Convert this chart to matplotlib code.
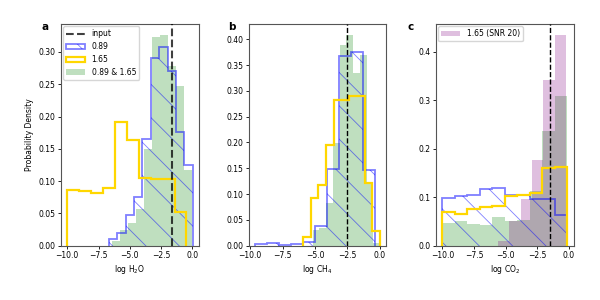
import numpy as np
import matplotlib.pyplot as plt

# panel a: log H2O  (bin ranges + densities)
h2o_input = -1.62
h2o_089_range = (-6.68, 0.02)
h2o_089 = [0.010, 0.020, 0.048, 0.076, 0.165, 0.291, 0.307, 0.270, 0.176, 0.125]
h2o_165_range = (-10.0, -0.48)
h2o_165 = [0.086, 0.084, 0.081, 0.089, 0.192, 0.164, 0.105, 0.104, 0.103, 0.052]
h2o_both_range = (-6.40, 0.0)
h2o_both = [0.008, 0.025, 0.035, 0.057, 0.150, 0.323, 0.327, 0.278, 0.247, 0.118]

# panel b: log CH4
ch4_input = -2.5
ch4_089_range = (-9.65, -0.39)
ch4_089 = [0.004, 0.006, 0.002, 0.003, 0.008, 0.039, 0.149, 0.368, 0.376, 0.146]
ch4_165_range = (-5.92, 0.02)
ch4_165 = [0.0175, 0.092, 0.117, 0.195, 0.282, 0.282, 0.290, 0.290, 0.122, 0.0286]
ch4_both_range = (-5.17, 0.04)
ch4_both = [0.030, 0.034, 0.082, 0.198, 0.389, 0.409, 0.335, 0.369, 0.122, 0.005]

# panel c: log CO2
co2_input = -1.47
co2_089_range = (-10.0, -0.13)
co2_089 = [0.098, 0.103, 0.105, 0.117, 0.118, 0.105, 0.105, 0.097, 0.097, 0.0635]
co2_165_range = (-10.0, -0.13)
co2_165 = [0.070, 0.066, 0.076, 0.079, 0.082, 0.102, 0.105, 0.109, 0.160, 0.163]
co2_both_range = (-10.0, -0.13)
co2_both = [0.046, 0.051, 0.044, 0.043, 0.060, 0.050, 0.053, 0.113, 0.237, 0.308]
co2_snr20_range = (-5.6, -0.2)
co2_snr20 = [0.010, 0.050, 0.096, 0.177, 0.342, 0.435]

FS = 5.5
plt.rcParams.update({"font.size": FS, "axes.linewidth": 0.8,
                     "xtick.major.width": 0.6, "ytick.major.width": 0.6,
                     "xtick.major.size": 2.5, "ytick.major.size": 2.5,
                     "hatch.linewidth": 0.6})


def edges_of(rng, vals):
    return np.linspace(rng[0], rng[1], len(vals) + 1)


def step_hist(ax, rng, vals, **kw):
    e = edges_of(rng, vals)
    return ax.hist(e[:-1], bins=e, weights=vals, **kw)[2][0]


fig = plt.figure(figsize=(6, 3), dpi=100)
axes = [fig.add_axes([61 / 600, 0.181, 138 / 600, 0.739]),
        fig.add_axes([249 / 600, 0.181, 137 / 600, 0.739]),
        fig.add_axes([436 / 600, 0.181, 138 / 600, 0.739])]

panels = [
    (h2o_input, h2o_089_range, h2o_089, h2o_165_range, h2o_165, h2o_both_range, h2o_both,
     r"log H$_2$O", (-10.5, 0.52), np.arange(0, 0.31, 0.05), "{:.2f}"),
    (ch4_input, ch4_089_range, ch4_089, ch4_165_range, ch4_165, ch4_both_range, ch4_both,
     r"log CH$_4$", (-10.09, 0.49), np.arange(0, 0.41, 0.05), "{:.2f}"),
    (co2_input, co2_089_range, co2_089, co2_165_range, co2_165, co2_both_range, co2_both,
     r"log CO$_2$", (-10.5, 0.42), np.arange(0, 0.41, 0.1), "{:.1f}"),
]

handles = []
for i, (ax, p) in enumerate(zip(axes, panels)):
    inp, r89, v89, r165, v165, rb, vb, xlab, xlim, yt, fmt = p
    hb = step_hist(ax, rb, vb, histtype="stepfilled", color="green", alpha=0.25,
                   zorder=1, label="0.89 & 1.65")
    if i == 2:
        hp = step_hist(ax, co2_snr20_range, co2_snr20, histtype="stepfilled",
                       color="purple", alpha=0.25, zorder=1.5, label="1.65 (SNR 20)")
    h89 = step_hist(ax, r89, v89, histtype="step", color="blue", alpha=0.5, lw=1.3,
                    hatch="\\", zorder=2, label="0.89")
    h165 = step_hist(ax, r165, v165, histtype="step", color="gold", lw=1.6,
                     zorder=2.5, label="1.65")
    if i == 0:
        hin = ax.axvline(inp, color="k", ls="--", lw=1.5, alpha=0.75, zorder=3,
                         label="input")
        handles = [hin, h89, h165, hb]
    else:
        ax.axvline(inp, color="k", ls="--", lw=1.0, zorder=3)
    ax.set_xlim(*xlim)
    ax.set_xticks([-10, -7.5, -5, -2.5, 0])
    ax.set_xticklabels(["\u221210.0", "\u22127.5", "\u22125.0", "\u22122.5", "0.0"])
    ax.set_yticks(yt)
    ax.set_yticklabels([fmt.format(t) for t in yt])
    ax.set_xlabel(xlab, labelpad=2)
    ax.tick_params(pad=1.5)
    for s in ax.spines.values():
        s.set_color("#555555")

axes[0].set_ylabel("Probability Density", labelpad=3)
axes[0].legend(handles, [h.get_label() for h in handles], loc="upper left",
               fontsize=FS, borderaxespad=0.3, handlelength=2.5)
axes[2].legend([hp], [hp.get_label()], loc="upper left", fontsize=FS,
               borderaxespad=0.3, handlelength=2.5)

for ax, letter, dx in zip(axes, "abc", [-0.14, -0.155, -0.205]):
    ax.text(dx, 0.985, letter, transform=ax.transAxes, fontsize=7.5,
            fontweight="bold", va="center", ha="left")

fig.savefig("out.png", dpi=100)
